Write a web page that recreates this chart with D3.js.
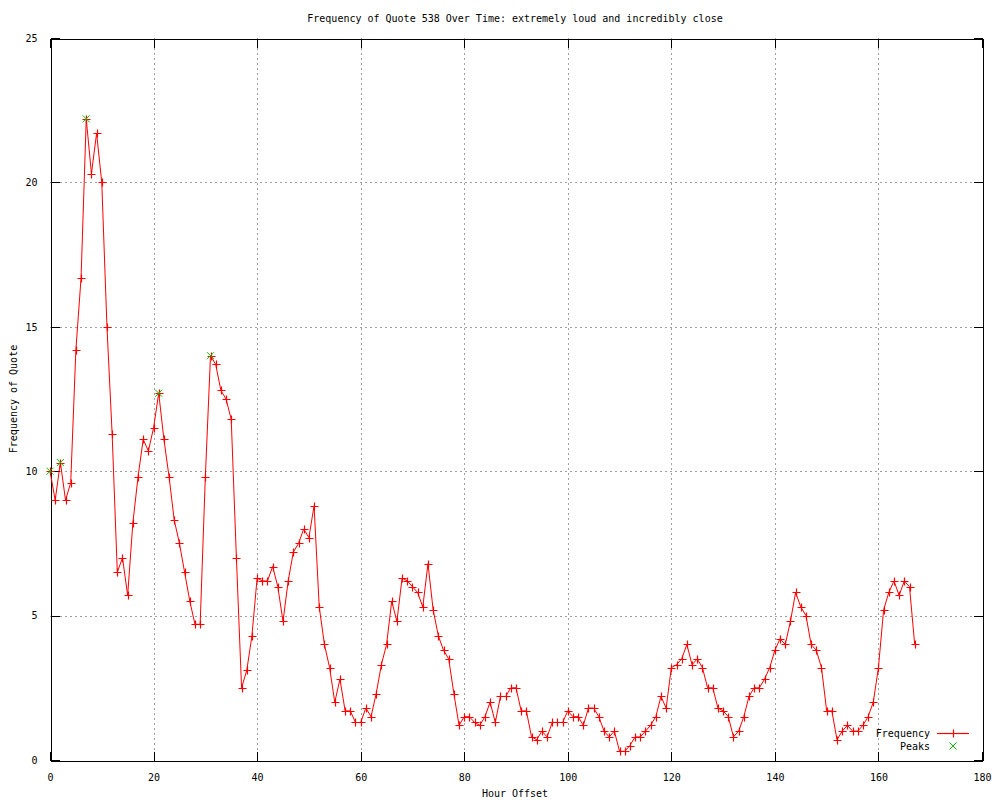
<!DOCTYPE html>
<html>
<head>
<meta charset="utf-8">
<script src="https://cdn.jsdelivr.net/npm/d3@7"></script>
<style>
  body { margin: 0; background: #fff; }
  text { font-family: "DejaVu Sans Mono", monospace; font-size: 10px; fill: #000; }
</style>
</head>
<body>
<svg id="chart" width="1000" height="800"></svg>
<script>
// hourly frequency values, hour 0..167
var freq = [
  10.0, 9.0, 10.3, 9.0, 9.6, 14.2, 16.7, 22.2, 20.3, 21.7,
  20.0, 15.0, 11.3, 6.5, 7.0, 5.7, 8.2, 9.8, 11.1, 10.7,
  11.5, 12.7, 11.1, 9.8, 8.3, 7.5, 6.5, 5.5, 4.7, 4.7,
  9.8, 14.0, 13.7, 12.8, 12.5, 11.8, 7.0, 2.5, 3.1, 4.3,
  6.3, 6.2, 6.2, 6.7, 6.0, 4.8, 6.2, 7.2, 7.5, 8.0,
  7.7, 8.8, 5.3, 4.0, 3.2, 2.0, 2.8, 1.7, 1.7, 1.3,
  1.3, 1.8, 1.5, 2.3, 3.3, 4.0, 5.5, 4.8, 6.3, 6.2,
  6.0, 5.8, 5.3, 6.8, 5.2, 4.3, 3.8, 3.5, 2.3, 1.2,
  1.5, 1.5, 1.3, 1.2, 1.5, 2.0, 1.3, 2.2, 2.2, 2.5,
  2.5, 1.7, 1.7, 0.8, 0.7, 1.0, 0.8, 1.3, 1.3, 1.3,
  1.7, 1.5, 1.5, 1.2, 1.8, 1.8, 1.5, 1.0, 0.8, 1.0,
  0.3, 0.3, 0.5, 0.8, 0.8, 1.0, 1.2, 1.5, 2.2, 1.8,
  3.2, 3.3, 3.5, 4.0, 3.3, 3.5, 3.2, 2.5, 2.5, 1.8,
  1.7, 1.5, 0.8, 1.0, 1.5, 2.2, 2.5, 2.5, 2.8, 3.2,
  3.8, 4.2, 4.0, 4.8, 5.8, 5.3, 5.0, 4.0, 3.8, 3.2,
  1.7, 1.7, 0.7, 1.0, 1.2, 1.0, 1.0, 1.2, 1.5, 2.0,
  3.2, 5.2, 5.8, 6.2, 5.7, 6.2, 6.0, 4.0
];

// detected peaks (hour offsets)
var peakHours = [0, 2, 7, 21, 31];

var xTicks = [0, 20, 40, 60, 80, 100, 120, 140, 160, 180];
var yTicks = [0, 5, 10, 15, 20, 25];

var titleText = "Frequency of Quote 538 Over Time: extremely loud and incredibly close";

var plotLeft = 50, plotRight = 982, plotTop = 38, plotBottom = 760;

var svg = d3.select("#chart");

var x = d3.scaleLinear().domain([0, 180]).range([plotLeft, plotRight]);
var y = d3.scaleLinear().domain([0, 25]).range([plotBottom, plotTop]);

var data = freq.map(function(v, i){ return {h: i, v: v}; });
var peaks = peakHours.map(function(h){ return {h: h, v: freq[h]}; });

// grid (dotted gray)
var grid = svg.append("g").attr("shape-rendering", "crispEdges");
grid.selectAll(".gx").data(xTicks.slice(1, -1)).enter().append("line")
  .attr("x1", function(d){ return Math.round(x(d)) + 0.5; })
  .attr("x2", function(d){ return Math.round(x(d)) + 0.5; })
  .attr("y1", plotTop).attr("y2", plotBottom)
  .attr("stroke", "#a0a0a0").attr("stroke-dasharray", "2,3");
grid.selectAll(".gy").data(yTicks.slice(1, -1)).enter().append("line")
  .attr("y1", function(d){ return Math.round(y(d)) + 0.5; })
  .attr("y2", function(d){ return Math.round(y(d)) + 0.5; })
  .attr("x1", plotLeft).attr("x2", plotRight)
  .attr("stroke", "#a0a0a0").attr("stroke-dasharray", "2,3");

// axes, ticks point inward and are mirrored on the opposite side
var bottomAxis = svg.append("g").attr("transform", "translate(0," + (plotBottom + 0.5) + ")")
  .call(d3.axisBottom(x).tickValues(xTicks).tickSize(-9).tickPadding(13).tickSizeOuter(0));
var topAxis = svg.append("g").attr("transform", "translate(0," + (plotTop + 0.5) + ")")
  .call(d3.axisTop(x).tickValues(xTicks).tickSize(-9).tickFormat("").tickSizeOuter(0));
var leftAxis = svg.append("g").attr("transform", "translate(" + (plotLeft + 0.5) + ",0)")
  .call(d3.axisLeft(y).tickValues(yTicks).tickSize(-9).tickPadding(13).tickSizeOuter(0));
var rightAxis = svg.append("g").attr("transform", "translate(" + (plotRight + 0.5) + ",0)")
  .call(d3.axisRight(y).tickValues(yTicks).tickSize(-9).tickFormat("").tickSizeOuter(0));

[bottomAxis, topAxis, leftAxis, rightAxis].forEach(function(a){
  a.attr("font-family", null).attr("font-size", null).attr("shape-rendering", "crispEdges");
  a.selectAll("path, line").attr("stroke", "#000");
  a.selectAll("text").attr("fill", "#000");
});

// frequency line
var line = d3.line().x(function(d){ return x(d.h); }).y(function(d){ return y(d.v); });
svg.append("path").datum(data)
  .attr("d", line)
  .attr("fill", "none")
  .attr("stroke", "#ff0000")
  .attr("stroke-width", 1);

// + markers
var ps = 4;
svg.append("g").selectAll("path").data(data).enter().append("path")
  .attr("d", function(d){
    var cx = Math.round(x(d.h)) + 0.5, cy = Math.round(y(d.v)) + 0.5;
    return "M" + (cx - ps) + "," + cy + "H" + (cx + ps) + "M" + cx + "," + (cy - ps) + "V" + (cy + ps);
  })
  .attr("stroke", "#ff0000").attr("stroke-width", 1.2).attr("fill", "none");

// peak x markers
var xs = 3.5;
svg.append("g").selectAll("path").data(peaks).enter().append("path")
  .attr("d", function(d){
    var cx = x(d.h), cy = y(d.v);
    return "M" + (cx - xs) + "," + (cy - xs) + "L" + (cx + xs) + "," + (cy + xs) +
           "M" + (cx - xs) + "," + (cy + xs) + "L" + (cx + xs) + "," + (cy - xs);
  })
  .attr("stroke", "#00c000").attr("fill", "none");

// legend
var legend = svg.append("g");
legend.append("text").attr("x", 930).attr("y", 737).attr("text-anchor", "end").text("Frequency");
legend.append("text").attr("x", 930).attr("y", 750).attr("text-anchor", "end").text("Peaks");
legend.append("line").attr("x1", 937).attr("x2", 969).attr("y1", 733.5).attr("y2", 733.5)
  .attr("stroke", "#ff0000").attr("stroke-width", 1.2);
legend.append("path")
  .attr("d", "M" + (953.5 - ps) + ",733.5H" + (953.5 + ps) + "M953.5," + (733.5 - ps) + "V" + (733.5 + ps))
  .attr("stroke", "#ff0000").attr("stroke-width", 1.2);
legend.append("path")
  .attr("d", "M" + (953 - xs) + "," + (746 - xs) + "L" + (953 + xs) + "," + (746 + xs) +
             "M" + (953 - xs) + "," + (746 + xs) + "L" + (953 + xs) + "," + (746 - xs))
  .attr("stroke", "#00c000").attr("fill", "none");

// titles
svg.append("text").attr("x", 515).attr("y", 22).attr("text-anchor", "middle").text(titleText);
svg.append("text").attr("x", 515).attr("y", 797).attr("text-anchor", "middle").text("Hour Offset");
svg.append("text").attr("transform", "translate(17,399) rotate(-90)")
  .attr("text-anchor", "middle").text("Frequency of Quote");
</script>
</body>
</html>
